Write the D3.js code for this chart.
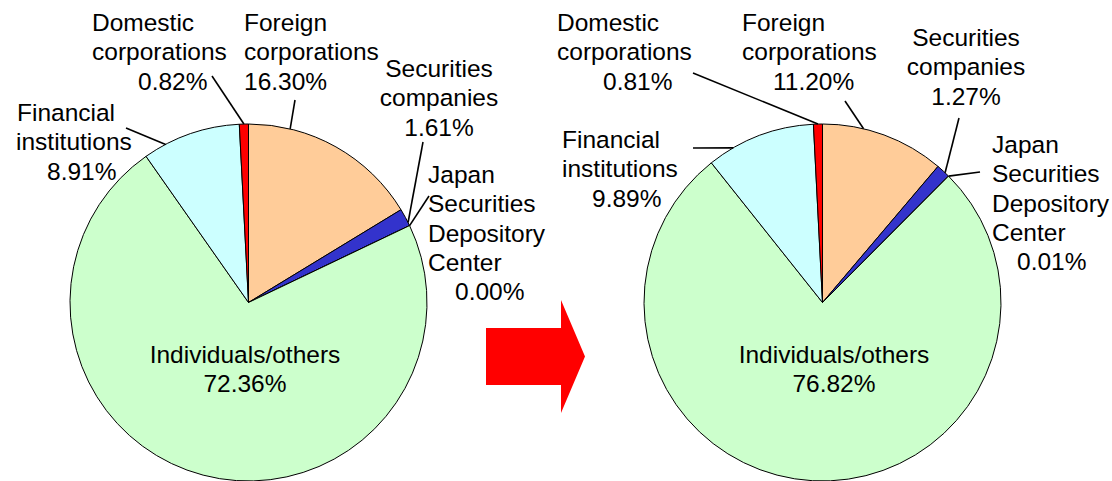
<!DOCTYPE html>
<html>
<head>
<meta charset="utf-8">
<script src="https://cdn.jsdelivr.net/npm/d3@7"></script>
<style>
  body { margin: 0; background: #fff; }
  text { font-family: Arial, "Liberation Sans", sans-serif; font-size: 24.5px; fill: #000; }
</style>
</head>
<body>
<svg id="chart" width="1112" height="481"></svg>
<script>
// categories in clockwise order from 12 o'clock
const categories = ["Foreign\ncorporations", "Securities\ncompanies", "Japan\nSecurities\nDepository\nCenter",
    "Individuals/others", "Financial\ninstitutions", "Domestic\ncorporations"];
const before = [16.30, 1.61, 0.00, 72.36, 8.91, 0.82];
const after = [11.20, 1.27, 0.01, 76.82, 9.89, 0.81];
const colors = ["#ffcc99", "#3333cc", "#9999ff", "#ccffcc", "#ccffff", "#ff0000"];

// label placement (x of each line, first baseline, leader start and where on the slice it points)
const leftLayout = [
    { x: [244, 244, 244], y: 31, from: [295, 100], t: 0.23 },
    { x: [439], anchor: "middle", y: 77, from: [423, 142], t: 0.81 },
    { x: [428, 428, 428, 428, 455], y: 183, from: [429, 196], t: 0.5 },
    { x: [245], anchor: "middle", y: 363 },
    { x: [17, 16, 47], y: 121, from: [126, 128], t: 0.23 },
    { x: [92, 92, 138], y: 31, from: [212, 76], t: 0.5 }
];
const rightLayout = [
    { x: [742, 742, 773], y: 31, from: [845, 101], t: 0.33 },
    { x: [966], anchor: "middle", y: 46, from: [959, 118], t: 0.67 },
    { x: [992, 992, 992, 992, 1017], y: 153, from: [980, 172], t: 0.5 },
    { x: [834], anchor: "middle", y: 363 },
    { x: [562, 562, 592], y: 148, from: [693, 148], t: 0.24 },
    { x: [557, 557, 603], y: 31, from: [693, 73], t: 0.5 }
];

const svg = d3.select("#chart");
const radius = 178.5;
const lineH = 29.3;

const pie = d3.pie().sort(null).value(d => d);
const arc = d3.arc().innerRadius(0).outerRadius(radius);

function drawPie(values, cx, cy, layout) {
    const g = svg.append("g").attr("transform", `translate(${cx},${cy})`);
    const slices = pie(values);

    g.selectAll("path")
        .data(slices)
        .enter().append("path")
        .attr("d", arc)
        .attr("fill", (d, i) => colors[i])
        .attr("stroke", "#000")
        .attr("stroke-width", 1);

    // leader lines
    slices.forEach((d, i) => {
        const L = layout[i];
        if (!L.from) return;
        const a = d.startAngle + (d.endAngle - d.startAngle) * L.t;
        svg.append("line")
            .attr("x1", L.from[0]).attr("y1", L.from[1])
            .attr("x2", cx + radius * Math.sin(a))
            .attr("y2", cy - radius * Math.cos(a))
            .attr("stroke", "#000")
            .attr("stroke-width", 1.6);
    });

    // labels
    categories.forEach((c, i) => {
        const L = layout[i];
        const lines = c.split("\n").concat([values[i].toFixed(2) + "%"]);
        const t = svg.append("text").attr("text-anchor", L.anchor || "start");
        lines.forEach((s, k) => {
            t.append("tspan")
                .attr("x", L.x[Math.min(k, L.x.length - 1)])
                .attr("y", L.y + k * lineH)
                .text(s);
        });
    });
}

drawPie(before, 248.5, 302.5, leftLayout);
drawPie(after, 822.5, 302.5, rightLayout);

// red arrow between the two pies
const arrow = { x0: 486, x1: 561, x2: 585, top: 328, bottom: 385, headTop: 300, headBottom: 413 };
const mid = (arrow.top + arrow.bottom) / 2;
svg.append("polygon")
    .attr("points", [
        [arrow.x0, arrow.top], [arrow.x1, arrow.top], [arrow.x1, arrow.headTop], [arrow.x2, mid],
        [arrow.x1, arrow.headBottom], [arrow.x1, arrow.bottom], [arrow.x0, arrow.bottom]
    ].map(p => p.join(",")).join(" "))
    .attr("fill", "#ff0000");
</script>
</body>
</html>
